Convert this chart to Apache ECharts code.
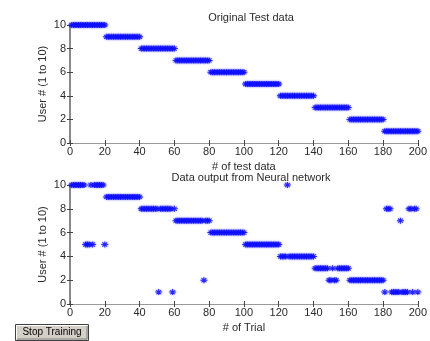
<!DOCTYPE html>
<html>
<head>
<meta charset="utf-8">
<script src="https://cdn.jsdelivr.net/npm/echarts@6/dist/echarts.min.js"></script>
<style>
  html, body { margin: 0; padding: 0; background: #ffffff; }
  #chart { width: 430px; height: 341px; }
</style>
</head>
<body>
<div id="chart"></div>
<script>
// ---- data ----
var topTitle = 'Original Test data';
var bottomTitle = 'Data output from Neural network';
var yName = 'User # (1 to 10)';
var topXName = '# of test data';
var bottomXName = '# of Trial';
var xTicks = [0, 20, 40, 60, 80, 100, 120, 140, 160, 180, 200];
var yTicks = [0, 2, 4, 6, 8, 10];

// user id of each test sample (trial 1..200)
var testData = [
  10,10,10,10,10,10,10,10,10,10,10,10,10,10,10,10,10,10,10,10,
  9,9,9,9,9,9,9,9,9,9,9,9,9,9,9,9,9,9,9,9,
  8,8,8,8,8,8,8,8,8,8,8,8,8,8,8,8,8,8,8,8,
  7,7,7,7,7,7,7,7,7,7,7,7,7,7,7,7,7,7,7,7,
  6,6,6,6,6,6,6,6,6,6,6,6,6,6,6,6,6,6,6,6,
  5,5,5,5,5,5,5,5,5,5,5,5,5,5,5,5,5,5,5,5,
  4,4,4,4,4,4,4,4,4,4,4,4,4,4,4,4,4,4,4,4,
  3,3,3,3,3,3,3,3,3,3,3,3,3,3,3,3,3,3,3,3,
  2,2,2,2,2,2,2,2,2,2,2,2,2,2,2,2,2,2,2,2,
  1,1,1,1,1,1,1,1,1,1,1,1,1,1,1,1,1,1,1,1
];

// network output for each trial (1..200)
var nnOutput = [
  10,10,10,10,10,10,10,10,5,5,5,10,5,10,10,10,10,10,10,5,
  9,9,9,9,9,9,9,9,9,9,9,9,9,9,9,9,9,9,9,9,
  8,8,8,8,8,8,8,8,8,8,1,8,8,8,8,8,8,8,1,8,
  7,7,7,7,7,7,7,7,7,7,7,7,7,7,7,7,2,7,7,7,
  6,6,6,6,6,6,6,6,6,6,6,6,6,6,6,6,6,6,6,6,
  5,5,5,5,5,5,5,5,5,5,5,5,5,5,5,5,5,5,5,5,
  4,4,4,4,10,4,4,4,4,4,4,4,4,4,4,4,4,4,4,4,
  3,3,3,3,3,3,3,3,2,2,3,2,2,3,3,3,3,3,3,3,
  2,2,2,2,2,2,2,2,2,2,2,2,2,2,2,2,2,2,2,2,
  1,8,8,8,1,1,1,1,1,7,1,1,1,1,8,8,1,8,8,1
];

function toPoints(values) {
  return values.map(function (v, i) { return [i + 1, v]; });
}

var star = 'path://M0,4.2L10,4.2L10,5.8L0,5.8Z M4.2,0L5.8,0L5.8,10L4.2,10Z M2,1L9,8L8,9L1,2Z M8,1L9,2L2,9L1,8Z';

var font = 'Liberation Sans, Arial, sans-serif';
var axisGray = '#7f7f7f';
var textCol = '#2a2a2a';

function xAxes(gridIndex, name) {
  return [
    {
      type: 'value', gridIndex: gridIndex, position: 'bottom',
      min: 0, max: 200, interval: 20,
      name: name, nameLocation: 'middle', nameGap: 18, nameMoveOverlap: false,
      nameTextStyle: { fontFamily: font, fontSize: 11, color: textCol },
      axisLine: { show: true, lineStyle: { color: axisGray, width: 1 } },
      axisTick: { show: true, inside: true, length: 3, lineStyle: { color: '#444' } },
      axisLabel: {
        margin: 3, fontFamily: font, fontSize: 11, color: textCol,
        formatter: function (v) { return xTicks.indexOf(v) >= 0 ? String(v) : ''; }
      },
      splitLine: { show: false }
    },
    {
      type: 'value', gridIndex: gridIndex, position: 'top',
      min: 0, max: 200, interval: 20,
      axisLine: { show: true, lineStyle: { color: '#9a9a9a', width: 1 } },
      axisTick: { show: true, inside: true, length: 3, lineStyle: { color: '#444' } },
      axisLabel: { show: false },
      splitLine: { show: false }
    }
  ];
}

function yAxes(gridIndex) {
  return [
    {
      type: 'value', gridIndex: gridIndex, position: 'left',
      min: 0, max: 10, interval: 2,
      name: yName, nameLocation: 'middle', nameGap: 22, nameMoveOverlap: false,
      nameTextStyle: { fontFamily: font, fontSize: 11, color: textCol },
      axisLine: { show: true, lineStyle: { color: axisGray, width: 1 } },
      axisTick: { show: true, inside: true, length: 3, lineStyle: { color: '#444' } },
      axisLabel: {
        margin: 4, fontFamily: font, fontSize: 11, color: textCol,
        formatter: function (v) { return yTicks.indexOf(v) >= 0 ? String(v) : ''; }
      },
      splitLine: { show: false }
    },
    {
      type: 'value', gridIndex: gridIndex, position: 'right',
      min: 0, max: 10, interval: 2,
      axisLine: { show: true, lineStyle: { color: '#8a8a8a', width: 2 } },
      axisTick: { show: true, inside: true, length: 3, lineStyle: { color: '#444' } },
      axisLabel: { show: false },
      splitLine: { show: false }
    }
  ];
}

var xa = xAxes(0, topXName).concat(xAxes(1, bottomXName));
var ya = yAxes(0).concat(yAxes(1));

function scatter(values, xi, yi) {
  return {
    type: 'scatter',
    xAxisIndex: xi, yAxisIndex: yi,
    data: toPoints(values),
    symbol: star,
    symbolSize: [7, 6],
    itemStyle: { color: '#0a0aff', shadowBlur: 2, shadowColor: 'rgba(40,40,255,0.7)' },
    silent: true,
    animation: false
  };
}

var chart = echarts.init(document.getElementById('chart'), null, { renderer: 'canvas' });
chart.setOption({
  backgroundColor: '#ffffff',
  animation: false,
  title: [
    { text: topTitle, left: 246, top: 7, textAlign: 'center',
      textStyle: { fontFamily: font, fontSize: 11, fontWeight: 'normal', color: textCol } },
    { text: bottomTitle, left: 246, top: 167, textAlign: 'center',
      textStyle: { fontFamily: font, fontSize: 11, fontWeight: 'normal', color: textCol } }
  ],
  grid: [
    { left: 70, top: 25, width: 353, height: 118 },
    { left: 70, top: 185, width: 353, height: 119 }
  ],
  xAxis: xa,
  yAxis: ya,
  series: [
    scatter(testData, 0, 0),
    scatter(nnOutput, 2, 2)
  ],
  graphic: [
    {
      type: 'group', left: 14, top: 323,
      children: [
        { type: 'rect', shape: { x: 0, y: 0, width: 73, height: 16 },
          style: { fill: '#d4d0c8', stroke: '#404040', lineWidth: 1 } },
        { type: 'polyline', shape: { points: [[1, 15], [1, 1], [72, 1]] },
          style: { stroke: '#ffffff', lineWidth: 1, fill: null } },
        { type: 'polyline', shape: { points: [[1.5, 14.5], [71.5, 14.5], [71.5, 1.5]] },
          style: { stroke: '#808080', lineWidth: 1, fill: null } },
        { type: 'text', style: { text: 'Stop Training', x: 36.5, y: 8, align: 'center', verticalAlign: 'middle',
          fontFamily: font, fontSize: 10, fill: '#000000' } }
      ]
    }
  ]
});
</script>
</body>
</html>
